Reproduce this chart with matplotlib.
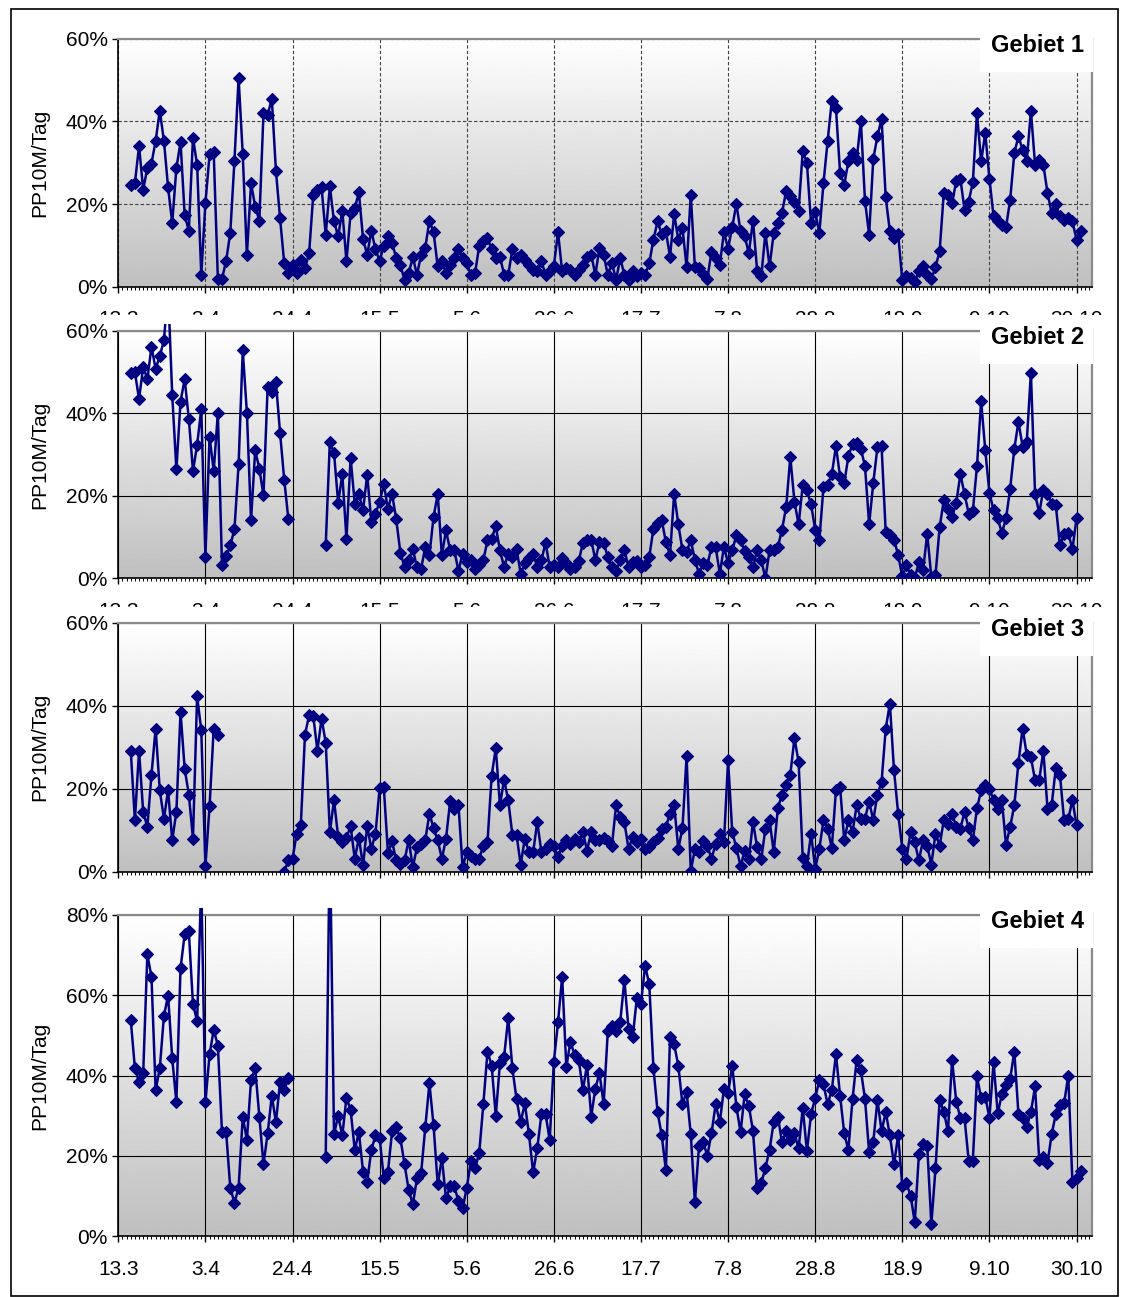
import numpy as np
import matplotlib
matplotlib.use("Agg")
import matplotlib.pyplot as plt
from matplotlib.patches import Rectangle
from matplotlib.ticker import FixedLocator, MultipleLocator, FuncFormatter

plt.rcParams['font.family'] = ['Liberation Sans', 'DejaVu Sans']

# ---- data: daily PP10M per Tag in %, days counted from 13.3 ----
date_labels = ["13.3", "3.4", "24.4", "15.5", "5.6", "26.6", "17.7",
               "7.8", "28.8", "18.9", "9.10", "30.10"]
label_step_days = 21
first_day = 3
last_day = 232

g1_mar_may = [24.7, 25.1, 34, 23.5, 28.7, 29.8, 35.3, 42.6, 35.3, 24, 15.4, 28.7, 35, 17.4, 13.5,
              36, 29.5, 2.9, 20.2, 32, 32.5, 1.9, 1.9, 6.3, 13.1, 30.5, 50.5, 32, 7.7, 25, 19.4,
              16, 42, 41.5, 45.5, 28, 16.5, 5.7, 3.3, 5.3, 3.3, 6.5, 4.5, 8.1, 22.3, 23.5, 24,
              12.6, 24.3, 15.8, 12.2, 18.4, 6.1, 17.8, 19, 22.8, 11.6, 7.7, 13.5, 9, 6.3, 9.8,
              12.2, 10.6, 6.9, 5.2, 1.7, 3.3, 7.1, 2.9, 7.7, 9.4, 16, 13.2, 4.9]
g1_jun_aug = [6.1, 3.3, 5.3, 6.9, 9, 6.9, 5.7, 2.9, 3.3, 9.8, 11, 11.8, 9, 6.9, 7.3, 2.9, 2.9,
              9, 6.9, 7.7, 6.5, 5.3, 4.1, 3.7, 6.1, 2.9, 3.7, 5, 13.2, 3.7, 4.5, 4.1, 2.9, 4.1,
              5.3, 7.3, 7.7, 2.9, 9.4, 7.7, 2.9, 5.7, 1.7, 6.9, 2.9, 1.7, 3.7, 2.5, 3.3, 2.9,
              5.7, 11.4, 15.8, 12.7, 13.4, 7.3, 17.6, 11.4, 14.2, 4.7, 22.3, 4.7, 4.5, 3, 1.9,
              8.5, 6.9, 5.3, 13.2, 9.2, 14.5, 20, 13.4, 12.2, 8.1, 16, 3.9, 2.5, 13, 4.9, 13]
g1_aug_nov = [15.4, 17.8, 23.2, 21.9, 20.6, 18.4, 32.9, 29.9, 15.4, 18.1, 13, 25.1, 35.3, 45,
              43.2, 27.5, 24.7, 30.3, 32.3, 30.7, 40.2, 20.8, 12.6, 30.9, 36.4, 40.6, 21.6,
              13.4, 11.8, 12.7, 1.5, 2.5, 2.1, 1.1, 3.7, 4.9, 2.9, 1.9, 4.7, 8.7, 22.7, 22.3,
              20.2, 25.5, 26.1, 18.6, 20.6, 25.3, 42, 30.3, 37.2, 26.1, 17, 16, 15, 14.4, 21,
              32.3, 36.4, 33.1, 30.3, 42.6, 29.5, 30.7, 29.5, 22.7, 17.8, 20, 17, 16.2, 16.5,
              15.8, 11.4, 13.5]

g2_mar_apr = [49.8, 50, 43.4, 51.3, 48.2, 56.1, 50.8, 53.8, 57.7, 70, 44.4, 26.4, 42.8, 48.3,
              38.6, 26, 32.3, 41.1, 5.2, 34.3, 26, 40.1, 3.2, 5.3, 8, 11.9, 27.6, 55.3, 40.1,
              14.1, 31, 26.6, 20.1, 46.4, 45.2, 47.5, 35.2, 23.9, 14.3]
g2_may = [8, 33.1, 30.4, 18.3, 25.2, 9.6, 29.2, 18.1, 20.4, 16.5, 25.1, 13.7, 15.7, 18.5,
          22.8, 16.9, 20.4, 14.3, 6.2, 2.7, 4.5, 7, 2.7, 2.3, 7.6, 5.6, 14.9, 20.4, 5.6]
g2_jun_aug = [11.6, 6.8, 6.8, 1.8, 6, 4, 4.5, 2.3, 3.2, 4.4, 9.2, 9.6, 12.6, 6.8, 2.7, 6, 5.2,
              7.2, 1.1, 3.6, 5, 6, 2.7, 4.4, 8.6, 2.7, 3.2, 2.7, 4.8, 3.6, 2.3, 2.7, 4.2, 8.6,
              9.2, 9.4, 4.4, 8.8, 8.6, 5.2, 2.7, 1.8, 4.4, 6.8, 2.7, 4, 4.2, 2.7, 3.2, 5.2, 12,
              13.3, 14.1, 8.8, 5.6, 20.5, 13.1, 6.8, 6.4, 9.2, 4.5, 1.1, 3.6, 3.2, 7.6, 7.6,
              1.1, 7.6, 3.7, 6.8, 10.4, 9.2, 6.6, 5.2, 2.7, 6.8, 4.4, 0, 6.8]
g2_aug_nov = [6.8, 7.6, 11.8, 17.3, 29.4, 18.5, 13.1, 22.6, 21.3, 17.9, 11.8, 9.2, 22.2, 22.6,
              25.2, 32, 24.6, 23, 29.6, 32.5, 32.7, 31.4, 27.2, 13.1, 23.1, 31.7, 32, 11.2,
              10.4, 9.4, 5.6, 0.5, 3.2, 0.7, 0, 4, 1.9, 10.8, 0.3, 0.7, 12.4, 18.9, 16.7, 14.9,
              18.3, 25.2, 20.5, 15.7, 16.3, 27.2, 43, 31, 20.7, 16.5, 14.5, 11, 14.5, 21.7,
              31.4, 37.9, 31.9, 33.1, 49.8, 20.5, 15.8, 21.5, 20.5, 18.1, 17.7, 8, 10.8, 11, 7,
              14.5]

g3_mar_apr = [29.2, 12.4, 29.2, 14.4, 10.8, 23.4, 34.5, 19.6, 12.8, 19.6, 7.6, 14.4, 38.5,
              24.8, 18.6, 8, 42.3, 34.1, 1.3, 15.8, 34.5, 33]
g3_apr_may = [0, 2.7, 3.1, 9.2, 11.2, 33, 37.7, 37.5, 29.2, 36.9, 31.1, 9.6, 17.2, 8.4, 7.1,
              8.1, 11, 3.1, 8.1, 1.5, 11, 5.5, 9.2, 20.2, 20.4, 4.6, 7.3, 2.7, 1.9, 2.7, 7.6,
              1.1, 5.9, 6.7, 7.6, 14, 10.5, 7.6]
g3_jun_aug = [3.1, 8, 17, 15.2, 16.1, 1.1, 4.7, 3.9, 3.1, 3.1, 6.3, 7.1, 23.1, 29.8, 16, 22.2,
              17.2, 8.9, 8.9, 1.7, 8, 4.7, 4.7, 12, 4.7, 5.5, 6.7, 6.3, 3.5, 6.3, 7.6, 6.7, 8,
              7.1, 9.6, 5.1, 9.6, 7.6, 7.6, 8.1, 7.3, 6.3, 16, 13.2, 12, 5.5, 8.4, 7.1, 8, 5.5,
              5.9, 7.1, 8.1, 10.4, 10.8, 14, 16.1, 5.5, 10.5, 27.9, 0.1, 5.5, 4.7, 7.3, 6.3,
              3.1, 6.7, 9.2, 7.1, 26.8, 9.6, 5.7, 1.4, 4.9, 3.1, 12, 5.9, 3.1, 10.4]
g3_aug_nov = [12.4, 4.7, 15.3, 18.6, 20.8, 23.4, 32.2, 26.4, 3.3, 1.4, 9.2, 0.7, 5.5, 12.4,
              10.4, 5.7, 19.6, 20.4, 7.6, 12.4, 9.6, 16, 12.8, 12.8, 16.9, 12.4, 18.6, 21.6,
              34.5, 40.5, 24.4, 14, 5.5, 3.1, 9.6, 7.1, 2.7, 7.6, 6.3, 1.7, 9.2, 6.3, 12.4,
              11.6, 14, 10.8, 10.4, 14.4, 10.5, 7.6, 15.3, 19.6, 20.8, 20, 17.2, 15.2, 17.2,
              6.5, 10.8, 16, 26.3, 34.5, 28.2, 27.6, 22, 22, 29.2, 15.2, 16, 25, 23.4, 12.4,
              12.6, 17.2, 11.3]

g4_mar_apr = [53.9, 41.8, 38.5, 40.6, 70.2, 64.6, 36.4, 41.8, 54.9, 59.9, 44.3, 33.4, 66.7,
              75.2, 75.9, 57.8, 53.6, 88, 33.4, 45.3, 51.4, 47.5, 25.9, 25.9, 12, 8.4, 12, 29.8,
              24, 38.9, 41.8, 29.8, 17.9, 25.6, 35, 28.4, 38.5, 36.4, 39.3]
g4_may = [19.8, 100, 25.4, 30, 25.1, 34.5, 31.5, 21.5, 25.9, 16.1, 13.6, 21.5, 25.1, 24.6,
          14.4, 16.1, 26.1, 27.1, 24.4, 17.9, 11.5, 8, 14.4, 15.7, 27.1, 38.1, 27.6, 12.9, 19.4]
g4_jun_aug = [9.5, 12.4, 12.4, 8.8, 7, 12, 18.8, 16.9, 20.7, 32.9, 46, 42.5, 30, 43.1, 44.7,
              54.4, 41.8, 34.2, 28.4, 33.1, 25.4, 15.9, 21.9, 30.4, 30.4, 24, 43.5, 53.3, 64.6,
              42.2, 48.5, 45.1, 43.9, 36.4, 42.7, 29.8, 36.8, 40.6, 32.9, 51, 52.4, 51.1, 53.4,
              63.8, 51.6, 49.5, 59.3, 57.8, 67.4, 62.7, 42, 31, 25.1, 16.5, 49.5, 47.8, 42.5,
              32.9, 36, 25.4, 8.5, 22.6, 23.4, 20.1, 25.6, 32.9, 28.4, 36.7, 35.6, 42.5, 32.3,
              25.9, 35.4, 32.5, 26.2, 12, 13.2, 17.1, 21.5, 28.5]
g4_aug_nov = [29.8, 23.4, 26.1, 24, 25.6, 21.9, 32, 21.2, 30.4, 34.4, 38.9, 37.8, 32.9, 36.4,
              45.3, 35, 25.6, 21.5, 34.2, 43.9, 41.4, 34.2, 20.9, 23.4, 33.9, 26.2, 30.9, 25.2,
              17.9, 25.2, 12.4, 13.2, 10.1, 3.5, 20.4, 22.9, 22.6, 3, 16.9, 33.9, 31, 26.2,
              43.9, 33.5, 29.5, 29.4, 18.8, 18.8, 39.8, 34.4, 34.8, 29.5, 43.3, 30.6, 35.4,
              37.7, 39.2, 46, 30.4, 29.4, 27.3, 30.9, 37.3, 19, 19.8, 18.2, 25.4, 30.4, 32.7,
              33.1, 40, 13.6, 14.4, 16.3]

# (start day, values) per measuring stretch; days without data stay empty
gebiete = [
    ("Gebiet 1", 60, [(3, g1_mar_may + g1_jun_aug + g1_aug_nov)]),
    ("Gebiet 2", 60, [(3, g2_mar_apr), (50, g2_may + g2_jun_aug + g2_aug_nov)]),
    ("Gebiet 3", 60, [(3, g3_mar_apr), (40, g3_apr_may + g3_jun_aug + g3_aug_nov)]),
    ("Gebiet 4", 80, [(3, g4_mar_apr), (50, g4_may + g4_jun_aug + g4_aug_nov)]),
]

# ---- layout (pixels) ----
W, H = 1122, 1297
fig = plt.figure(figsize=(W / 100, H / 100), dpi=100)
fig.patch.set_facecolor("white")

X0, X1 = 118.3, 1092.3
panel_rows = [(38.7, 286.7), (330.7, 578.3), (622.7, 871.7), (915.0, 1236.3)]
NAVY = "#000080"

grad = np.linspace(0.75, 1.0, 256).reshape(-1, 1)


def fig_rect(x0, y0, x1, y1):
    return [x0 / W, 1 - y1 / H, (x1 - x0) / W, (y1 - y0) / H]


axes = []
for i, ((name, ymax, segments), (ytop, ybot)) in enumerate(zip(gebiete, panel_rows)):
    ax = fig.add_axes(fig_rect(X0, ytop, X1, ybot))
    ax.set_zorder(2 * i)
    ax.patch.set_visible(False)
    ax.imshow(grad, extent=(0, 1, 0, 1), transform=ax.transAxes, aspect="auto",
              cmap="gray", vmin=0, vmax=1, origin="lower", zorder=-5, interpolation="bilinear")

    days = np.arange(first_day, last_day + 1)
    vals = np.full(days.shape, np.nan)
    for start, seg in segments:
        vals[start - first_day:start - first_day + len(seg)] = seg

    line, = ax.plot(days, vals, color=NAVY, lw=1.8, marker="D", ms=6.4,
                    mfc=NAVY, mec=NAVY, mew=0.8, zorder=5)
    # line may run a little above the plot area, as in the original chart area
    clip = Rectangle((0, 0), 1, 1 + 7.0 / (ybot - ytop), transform=ax.transAxes)
    line.set_clip_path(clip)

    ax.set_xlim(0, 234.8)
    ax.set_ylim(0, ymax)
    ax.yaxis.set_major_locator(MultipleLocator(20))
    ax.yaxis.set_major_formatter(FuncFormatter(lambda v, p: f"{v:.0f}%"))
    ax.xaxis.set_major_locator(FixedLocator(np.arange(len(date_labels)) * label_step_days))
    ax.xaxis.set_minor_locator(MultipleLocator(1))
    ax.set_xticklabels(date_labels)

    ax.tick_params(axis="y", which="major", direction="out", length=4.5, width=1,
                   labelsize=15, pad=3, color="black")
    ax.tick_params(axis="x", which="major", direction="out", length=4.5, width=1,
                   labelsize=15, pad=12.5)
    ax.tick_params(axis="x", which="minor", direction="out", length=2.2, width=0.7)
    if i == 2:
        ax.tick_params(axis="x", which="both", labelbottom=False)

    if i == 0:
        ax.grid(True, which="major", color="#404040", lw=0.8, ls=(0, (3, 2)))
    else:
        ax.grid(True, which="major", color="black", lw=0.8)
    ax.set_axisbelow(True)

    for s in ("top", "right"):
        ax.spines[s].set_color("#8a8a8a")
        ax.spines[s].set_linewidth(1.6)
    for s in ("left", "bottom"):
        ax.spines[s].set_color("black")
        ax.spines[s].set_linewidth(1.2)

    fig.text(40 / W, 1 - (ytop + ybot) / 2 / H, "PP10M/Tag", rotation=90,
             ha="center", va="center", fontsize=15)

    # label box in the upper right corner
    ax.add_patch(Rectangle(((X1 - 112) / W, 1 - (ytop + 33) / H), 113 / W, 43 / H,
                           transform=fig.transFigure, facecolor="white",
                           edgecolor="none", zorder=20, clip_on=False))
    ax.text((X1 - 55) / W, 1 - (ytop + 7) / H, name, transform=fig.transFigure,
            ha="center", va="center", fontsize=17, fontweight="bold", zorder=21)
    axes.append(ax)

# the next chart area hides most of the date labels of the panels above
for i in range(2):
    ytop_next = panel_rows[i + 1][0]
    fig.add_artist(Rectangle((90 / W, 1 - (ytop_next - 1) / H), 1025 / W,
                             (ytop_next - 1 - (ytop_next - 15.5)) / H,
                             transform=fig.transFigure, facecolor="white",
                             edgecolor="none", zorder=2 * i + 1))

# outer frame
fig.add_artist(Rectangle((10.5 / W, 1 - 1296 / H), (1118 - 10.5) / W, (1296 - 8.5) / H,
                         transform=fig.transFigure, facecolor="none",
                         edgecolor="black", lw=1.2, zorder=50))

fig.savefig("out.png", dpi=100)
